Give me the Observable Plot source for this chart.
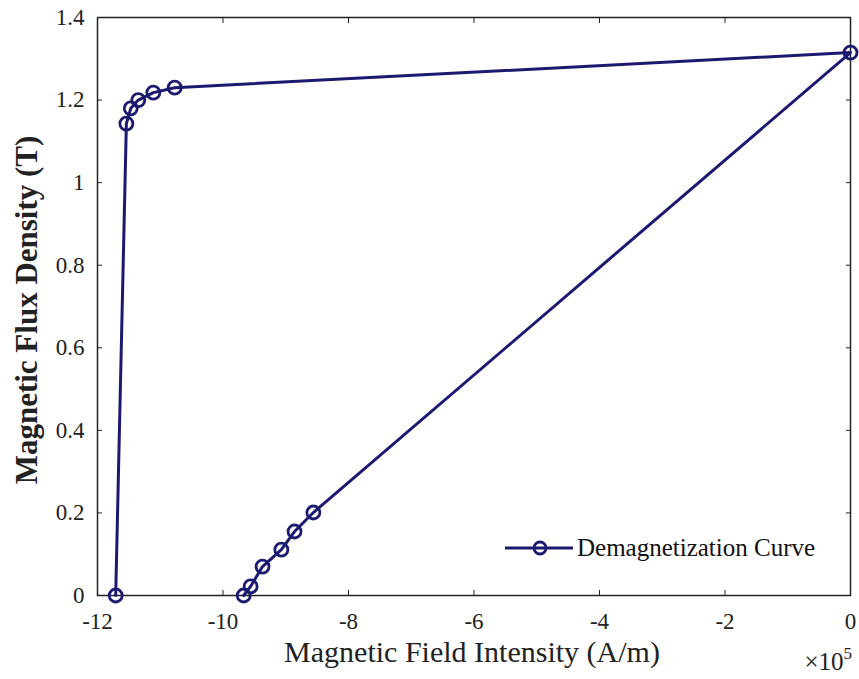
<!DOCTYPE html>
<html>
<head>
<meta charset="utf-8">
<script src="https://cdn.jsdelivr.net/npm/d3@7"></script>
<script src="https://cdn.jsdelivr.net/npm/@observablehq/plot@0.6"></script>
<style>
  html, body { margin: 0; padding: 0; background: #fff; }
  #wrap { position: relative; width: 859px; height: 679px; font-family: "Liberation Serif", "DejaVu Serif", serif; }
  #legend { position: absolute; left: 503px; top: 532px; height: 32px; display: flex; align-items: center; font-size: 25px; color: #111; white-space: nowrap; }
</style>
</head>
<body>
<div id="wrap">
  <div id="chart"></div>
  <div id="legend"></div>
</div>
<script>
// Demagnetization curve (H in units of 1e5 A/m, B in T)
const H = [-11.71, -11.54, -11.47, -11.35, -11.11, -10.77, 0, -8.56, -8.86, -9.07, -9.37, -9.56, -9.67];
const B = [0, 1.143, 1.18, 1.20, 1.218, 1.23, 1.315, 0.201, 0.155, 0.111, 0.070, 0.022, 0];
const xTicks = [-12, -10, -8, -6, -4, -2, 0];
const yTicks = [0, 0.2, 0.4, 0.6, 0.8, 1, 1.2, 1.4];
const seriesName = "Demagnetization Curve";
const xLabel = "Magnetic Field Intensity (A/m)";
const yLabel = "Magnetic Flux Density (T)";
const xExponent = "5";
const lineColor = "#1c1a70";

const data = H.map((h, i) => ({h, b: B[i]}));
const fmt = d => String(d).replace("\u2212", "-");

const chart = Plot.plot({
  width: 859,
  height: 679,
  marginLeft: 97,
  marginRight: 9,
  marginTop: 17,
  marginBottom: 84,
  style: {fontFamily: "'Liberation Serif', 'DejaVu Serif', serif", background: "#fff", color: "#222"},
  x: {domain: [-12, 0]},
  y: {domain: [0, 1.4]},
  marks: [
    Plot.frame({stroke: "#222", strokeWidth: 1.5}),
    Plot.axisX({anchor: "bottom", ticks: xTicks, tickSize: -5, tickPadding: 22, fontSize: 23, label: null, tickFormat: fmt}),
    Plot.axisX({anchor: "top", ticks: xTicks, tickSize: -5, tickFormat: () => "", label: null}),
    Plot.axisY({anchor: "left", ticks: yTicks, tickSize: -5, tickPadding: 18, fontSize: 23, label: null, tickFormat: fmt}),
    Plot.axisY({anchor: "right", ticks: yTicks, tickSize: -5, tickFormat: () => "", label: null}),
    Plot.line(data, {x: "h", y: "b", stroke: lineColor, strokeWidth: 3}),
    Plot.dot(data, {x: "h", y: "b", r: 6.5, stroke: lineColor, strokeWidth: 2.8, fill: "none"})
  ]
});
document.getElementById("chart").appendChild(chart);

const svg = d3.select(chart);
svg.append("text")
  .attr("x", 472).attr("y", 662)
  .attr("text-anchor", "middle")
  .style("font-size", "30px")
  .attr("fill", "#222")
  .text(xLabel);
svg.append("text")
  .attr("transform", "translate(37,310) rotate(-90)")
  .attr("text-anchor", "middle")
  .style("font-size", "31px")
  .style("font-weight", "bold")
  .attr("fill", "#222")
  .text(yLabel);
const ex = svg.append("text")
  .attr("x", 852).attr("y", 670)
  .attr("text-anchor", "end")
  .style("font-size", "25px")
  .attr("fill", "#222");
ex.append("tspan").text("×10");
ex.append("tspan").attr("dy", -11).style("font-size", "17px").text(xExponent);

// legend
const leg = document.getElementById("legend");
leg.innerHTML = `<svg width="72" height="24"><line x1="2" x2="70" y1="12" y2="12" stroke="${lineColor}" stroke-width="3"/><circle cx="37" cy="12" r="6" fill="none" stroke="${lineColor}" stroke-width="2.8"/></svg><span style="margin-left:2px">${seriesName}</span>`;
</script>
</body>
</html>
